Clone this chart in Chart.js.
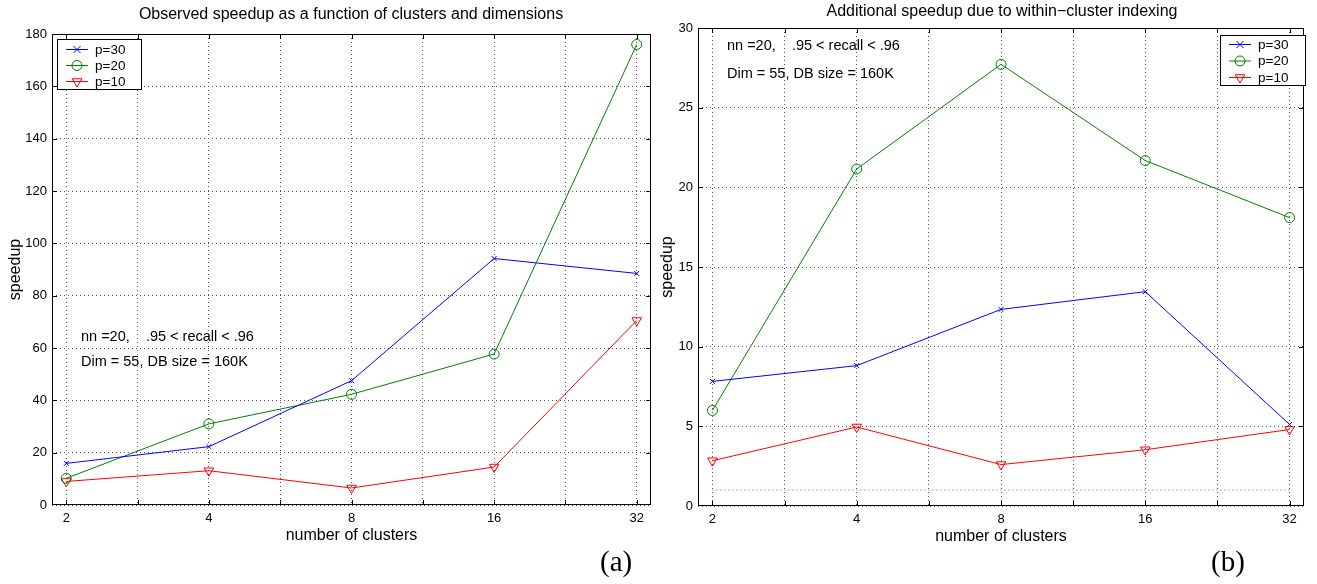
<!DOCTYPE html>
<html>
<head>
<meta charset="utf-8">
<script src="https://cdn.jsdelivr.net/npm/chart.js@4.4.1/dist/chart.umd.min.js"></script>
<style>
  body { margin:0; background:#fff; width:1317px; height:584px; overflow:hidden; position:relative; font-family:"Liberation Sans", Arial, sans-serif; }
  .panel { position:absolute; top:0; height:584px; }
  #panelA { left:0; width:660px; }
  #panelB { left:652px; width:665px; }
  .title { position:absolute; font-size:16px; color:#000; white-space:nowrap; transform:translateX(-50%); }
  .tag { position:absolute; font-family:"Liberation Serif", "DejaVu Serif", serif; font-size:29px; color:#000; }
</style>
</head>
<body>
<div class="panel" id="panelA"><canvas id="chartA"></canvas></div>
<div class="panel" id="panelB"><canvas id="chartB"></canvas></div>
<div class="title" style="left:351px; top:5px;">Observed speedup as a function of clusters and dimensions</div>
<div class="title" style="left:1002px; top:2px;">Additional speedup due to within−cluster indexing</div>
<div class="tag" style="left:600px; top:545px;">(a)</div>
<div class="tag" style="left:1211px; top:545px;">(b)</div>
<script>
// -- DATA
const clusters     = [2, 4, 8, 16, 32];
const seriesLabels = ['p=30', 'p=20', 'p=10'];

// panel (a): observed speedup
const speedupP30 = [15.9, 22.3, 47.5, 94.2, 88.5];
const speedupP20 = [10.2, 31.0, 42.3, 57.7, 176.0];
const speedupP10 = [9.0, 13.1, 6.5, 14.5, 70.5];
const speedupTicks = [0, 20, 40, 60, 80, 100, 120, 140, 160, 180];

// panel (b): additional speedup
const extraP30 = [7.82, 8.81, 12.34, 13.45, 5.12];
const extraP20 = [6.0, 21.15, 27.72, 21.68, 18.1];
const extraP10 = [2.84, 4.96, 2.6, 3.53, 4.8];
const extraBase = [1, 1, 1, 1, 1];
const extraTicks = [0, 5, 10, 15, 20, 25, 30];

const FONT = '"Liberation Sans", Arial, sans-serif';
const xs = clusters.map(c => Math.log2(c));
const pts = vals => vals.map((v, i) => ({ x: xs[i], y: v }));

const styles = [
  { color:'#0000ff', pointStyle:'crossRot', radius:3.5, rotation:0 },
  { color:'#008000', pointStyle:'circle',   radius:5,   rotation:0 },
  { color:'#ff0000', pointStyle:'triangle', radius:5.5, rotation:180 },
];

function series(valsList) {
  return valsList.map((vals, i) => ({
    label: seriesLabels[i],
    data: pts(vals),
    borderColor: styles[i].color,
    backgroundColor: 'transparent',
    borderWidth: 1,
    pointStyle: styles[i].pointStyle,
    pointRadius: styles[i].radius,
    pointRotation: styles[i].rotation,
    pointBorderColor: styles[i].color,
    pointBackgroundColor: 'transparent',
    pointBorderWidth: 1,
    tension: 0,
    inLegend: true
  }));
}

// -- MARKERS (for the legend)
function marker(ctx, style, x, y) {
  ctx.save();
  ctx.strokeStyle = style.color;
  ctx.lineWidth = 1;
  ctx.beginPath();
  const r = style.radius;
  if (style.pointStyle === 'crossRot') {
    ctx.moveTo(x - r, y - r); ctx.lineTo(x + r, y + r);
    ctx.moveTo(x + r, y - r); ctx.lineTo(x - r, y + r);
  } else if (style.pointStyle === 'circle') {
    ctx.arc(x, y, r, 0, Math.PI * 2);
  } else {
    ctx.moveTo(x - r * 0.87, y - r * 0.5);
    ctx.lineTo(x + r * 0.87, y - r * 0.5);
    ctx.lineTo(x, y + r);
    ctx.closePath();
  }
  ctx.stroke();
  ctx.restore();
}

// -- DECOR PLUGIN: box, inner ticks, legend, notes
const decor = {
  id: 'decor',
  afterDatasetsDraw(chart, args, opts) {
    const ctx = chart.ctx;
    const a = chart.chartArea;
    const sx = chart.scales.x, sy = chart.scales.y;
    ctx.save();
    ctx.strokeStyle = '#000';
    ctx.lineWidth = 1;
    ctx.strokeRect(a.left + 0.5, a.top + 0.5, a.right - a.left - 1, a.bottom - a.top - 1);
    ctx.beginPath();
    const tl = 5;
    sx.ticks.forEach(t => {
      if (t.value <= sx.min || t.value >= sx.max) return;
      const px = Math.round(sx.getPixelForValue(t.value)) + 0.5;
      ctx.moveTo(px, a.bottom); ctx.lineTo(px, a.bottom - tl);
      ctx.moveTo(px, a.top); ctx.lineTo(px, a.top + tl);
    });
    sy.ticks.forEach(t => {
      if (t.value <= sy.min || t.value >= sy.max) return;
      const py = Math.round(sy.getPixelForValue(t.value)) + 0.5;
      ctx.moveTo(a.left, py); ctx.lineTo(a.left + tl, py);
      ctx.moveTo(a.right, py); ctx.lineTo(a.right - tl, py);
    });
    ctx.stroke();

    // notes
    ctx.fillStyle = '#000';
    ctx.font = '14.5px ' + FONT;
    ctx.textBaseline = 'middle';
    ctx.textAlign = 'left';
    (opts.notes || []).forEach(n => ctx.fillText(n.text, n.x, n.y));

    // legend
    const L = opts.legend;
    ctx.fillStyle = '#fff';
    ctx.fillRect(L.x, L.y, L.w, L.h);
    ctx.strokeStyle = '#000';
    ctx.strokeRect(L.x + 0.5, L.y + 0.5, L.w, L.h);
    ctx.font = '13.5px ' + FONT;
    chart.data.datasets.filter(d => d.inLegend).forEach((d, i) => {
      const y = L.y + L.row0 + i * L.step;
      ctx.strokeStyle = styles[i].color;
      ctx.beginPath();
      ctx.moveTo(L.x + 9, y + 0.5); ctx.lineTo(L.x + 31, y + 0.5);
      ctx.stroke();
      marker(ctx, styles[i], L.x + 20, y + 0.5);
      ctx.fillStyle = '#000';
      ctx.fillText(d.label, L.x + 38, y + 1);
    });
    ctx.restore();
  }
};

function axes(yTicks, yWidth) {
  return {
    x: {
      type: 'linear', min: 0.9, max: 5.1,
      afterBuildTicks: s => { s.ticks = [1, 1.5, 2, 2.5, 3, 3.5, 4, 4.5, 5].map(v => ({ value: v })); },
      afterFit: s => { s.height = 40; },
      grid: { color: '#555', drawTicks: false, lineWidth: 1 },
      border: { display: false, dash: [1, 3] },
      ticks: {
        padding: 6, color: '#000', font: { family: FONT, size: 13 },
        callback: v => Math.abs(v - Math.round(v)) < 1e-6 ? String(clusters[Math.round(v) - 1]) : ''
      },
      title: { display: true, text: 'number of clusters', color: '#000', font: { family: FONT, size: 16 }, padding: { top: 0, bottom: 0 } }
    },
    y: {
      min: yTicks[0], max: yTicks[yTicks.length - 1],
      afterBuildTicks: s => { s.ticks = yTicks.map(v => ({ value: v })); },
      afterFit: s => { s.width = yWidth; },
      grid: { color: '#555', drawTicks: false, lineWidth: 1 },
      border: { display: false, dash: [1, 3] },
      ticks: { padding: 5, color: '#000', font: { family: FONT, size: 13 } },
      title: { display: true, text: 'speedup', color: '#000', font: { family: FONT, size: 16 }, padding: { top: 6, bottom: 0 } }
    }
  };
}

// -- CHART A
new Chart(document.getElementById('chartA'), {
  type: 'line',
  data: { datasets: series([speedupP30, speedupP20, speedupP10]) },
  options: {
    responsive: true, maintainAspectRatio: false, animation: false,
    layout: { padding: { left: 0, top: 34, right: 9, bottom: 39 } },
    scales: axes(speedupTicks, 52),
    plugins: {
      legend: { display: false }, tooltip: { enabled: false },
      decor: {
        legend: { x: 57, y: 39, w: 84, h: 50, row0: 10, step: 16 },
        notes: [
          { text: 'nn =20,    .95 < recall < .96', x: 81, y: 337 },
          { text: 'Dim = 55, DB size = 160K', x: 81, y: 362 }
        ]
      }
    }
  },
  plugins: [decor]
});

// -- CHART B
const dsB = series([extraP30, extraP20, extraP10]);
dsB.push({
  label: 'base', data: pts(extraBase), borderColor: '#ff00ff', borderWidth: 1,
  borderDash: [1, 3], pointRadius: 0, tension: 0, inLegend: false
});

new Chart(document.getElementById('chartB'), {
  type: 'line',
  data: { datasets: dsB },
  options: {
    responsive: true, maintainAspectRatio: false, animation: false,
    layout: { padding: { left: 0, top: 28, right: 13, bottom: 38 } },
    scales: axes(extraTicks, 46),
    plugins: {
      legend: { display: false }, tooltip: { enabled: false },
      decor: {
        legend: { x: 568, y: 35, w: 85, h: 50, row0: 9, step: 16.5 },
        notes: [
          { text: 'nn =20,    .95 < recall < .96', x: 75, y: 46 },
          { text: 'Dim = 55, DB size = 160K', x: 75, y: 74 }
        ]
      }
    }
  },
  plugins: [decor]
});
</script>
</body>
</html>
